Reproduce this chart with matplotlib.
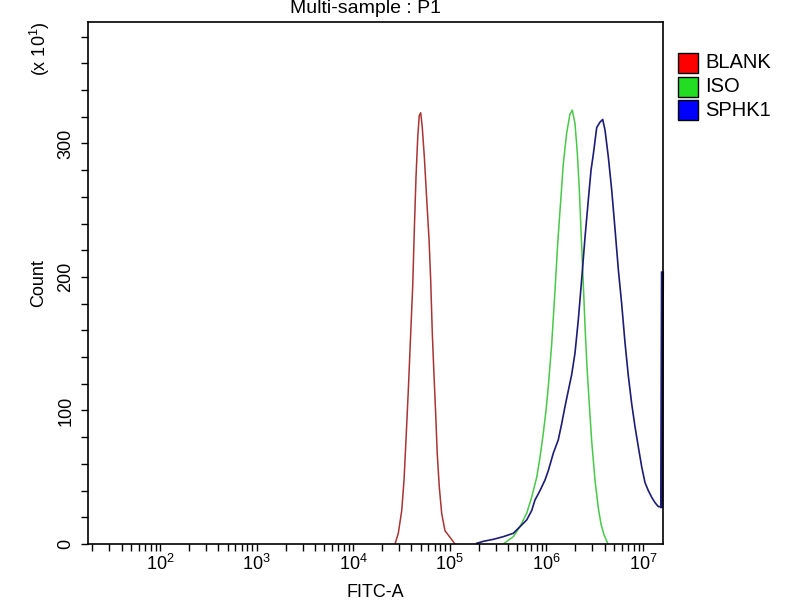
import matplotlib
matplotlib.use("Agg")
import matplotlib.pyplot as plt
from matplotlib.patches import Rectangle
from matplotlib.ticker import LogLocator, NullFormatter, MultipleLocator

plt.rcParams["font.family"] = ["Liberation Sans", "DejaVu Sans"]
plt.rcParams["mathtext.fontset"] = "custom"
plt.rcParams["mathtext.rm"] = "Liberation Sans"
plt.rcParams["mathtext.it"] = "Liberation Sans"

# FITC-A intensity vs count (count shown in units of 10)
blank_x = [27100, 29300, 31800, 33600, 35200, 37200, 39400, 41300, 43000, 44700,
           46600, 48300, 50000, 51900, 54500, 57700, 61000, 63400, 65900, 68500,
           71400, 74100, 77800, 82400, 89100, 100500, 113200]
blank_y = [0, 8, 25, 48, 78, 115, 158, 193, 237, 275,
           305, 321, 323, 312, 290, 258, 228, 198, 158, 128,
           98, 68, 43, 23, 10, 5, 0]

iso_x = [358000, 454000, 533000, 625000, 704000, 794000, 859000, 929000, 991000, 1047000,
         1135000, 1228000, 1309000, 1384000, 1497000, 1622000, 1754000, 1854000, 1977000, 2089000,
         2193000, 2281000, 2393000, 2512000, 2630000, 2761000, 2944000, 3184000, 3444000, 3673000,
         3945000, 4342000]
iso_y = [0, 5.5, 13, 23, 35, 50, 65, 83, 100, 118,
         150, 190, 225, 250, 285, 308, 322, 325, 315, 293,
         265, 235, 200, 163, 133, 108, 77, 48, 27, 15,
         7, 0]

sphk1_x = [189700, 222200, 282000, 358000, 454000, 533000, 625000, 704000, 762000, 859000,
           968000, 1047000, 1179000, 1327000, 1439000, 1558000, 1687000, 1828000, 1977000, 2140000,
           2317000, 2512000, 2718000, 2897000, 3061000, 3319000, 3589000, 3828000, 4045000, 4375000,
           4745000, 5131000, 5549000, 6012000, 6509000, 7047000, 7638000, 8260000, 8933000, 9683000,
           10490000, 11350000, 12300000, 13310000, 14400000, 15590000, 15880000]
sphk1_y = [0.5, 2, 3.5, 5.5, 8, 13, 18, 25, 33, 40,
           48, 55, 68, 78, 90, 103, 115, 127, 143, 168,
           198, 230, 258, 280, 292, 312, 316, 318, 310, 290,
           265, 236, 206, 180, 151, 126, 105, 88, 73, 58,
           46, 40, 35, 31, 28, 28, 203]

names = ["BLANK", "ISO", "SPHK1"]
line_colors = ["#a83434", "#48c848", "#1c1c74"]
box_colors = ["#ff0000", "#22dd22", "#0000ff"]

fig = plt.figure(figsize=(8, 6), dpi=100)
ax = fig.add_axes([88.3 / 800, 56 / 600, (663 - 88.3) / 800, (544 - 22) / 600])

ax.plot(blank_x, blank_y, color=line_colors[0], lw=1.1)
ax.plot(iso_x, iso_y, color=line_colors[1], lw=1.1)
ax.plot(sphk1_x, sphk1_y, color=line_colors[2], lw=1.2)
# last bin pile-up drawn heavier, as in the cytometer export
ax.plot(sphk1_x[-2:], sphk1_y[-2:], color=line_colors[2], lw=2.4, clip_on=False)

ax.set_xscale("log")
ax.set_xlim(10 ** 1.258, 10 ** 7.207)
ax.set_ylim(0, 391)

ax.xaxis.set_major_locator(LogLocator(base=10, numticks=12))
ax.xaxis.set_minor_locator(LogLocator(base=10, subs=range(2, 10), numticks=12))
ax.xaxis.set_minor_formatter(NullFormatter())
ax.yaxis.set_major_locator(MultipleLocator(100))
ax.yaxis.set_minor_locator(MultipleLocator(20))

ax.tick_params(which="both", direction="out", length=5, width=1, colors="black")
ax.tick_params(axis="x", which="both", labelsize=13, pad=2)
ax.tick_params(axis="y", which="both", labelsize=13, pad=5)
for lbl in ax.get_yticklabels():
    lbl.set_rotation(90)
    lbl.set_va("center")

for s in ax.spines.values():
    s.set_linewidth(1.2)
    s.set_color("black")

ax.set_xlabel("FITC-A", fontsize=13)
ax.xaxis.set_label_coords(0.5, -0.076)
ax.set_ylabel("Count", fontsize=13)
ax.yaxis.set_label_coords(-0.072, 0.5)

fig.text(365 / 800, 1 - 12.7 / 600, "Multi-sample : P1", ha="center", va="baseline", fontsize=14)
fig.text(40 / 800, 1 - 49 / 600, "(x 10$^{1}$)", rotation=90, ha="center", va="center", fontsize=13)

# legend boxes
for i, (nm, bc) in enumerate(zip(names, box_colors)):
    top = 53 + i * 23.5
    fig.patches.append(Rectangle((678 / 800, 1 - (top + 20) / 600), 20 / 800, 20 / 600,
                                 transform=fig.transFigure, facecolor=bc,
                                 edgecolor="black", lw=1))
    fig.text(705 / 800, 1 - (top + 10) / 600, nm, ha="left", va="center", fontsize=14.5)

fig.savefig("out.png", dpi=100)
